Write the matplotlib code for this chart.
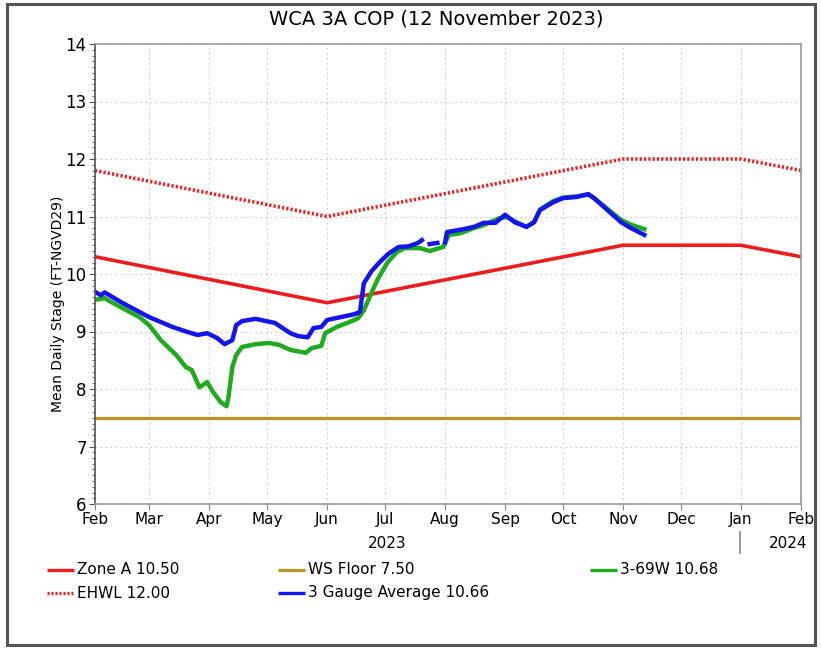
import matplotlib
matplotlib.use("Agg")
import matplotlib.pyplot as plt
from matplotlib.patches import Rectangle
from matplotlib.lines import Line2D
from matplotlib.ticker import MultipleLocator
import numpy as np
import pandas as pd

plt.rcParams['font.family'] = ['DejaVu Sans']

title = "WCA 3A COP (12 November 2023)"
ylabel = "Mean Daily Stage (FT-NGVD29)"

# Regulation schedule breakpoints
sched_dates = ["2023-02-01", "2023-06-01", "2023-11-01", "2024-01-01", "2024-02-01"]
zone_a = [10.3, 9.5, 10.5, 10.5, 10.3]
ehwl = [11.8, 11.0, 12.0, 12.0, 11.8]
ws_floor_dates = ["2023-02-01", "2024-02-01"]
ws_floor = [7.5, 7.5]

# 3 Gauge Average (NaN = data gap)
avg_dates = ["2023-02-01", "2023-02-04", "2023-02-06", "2023-02-15", "2023-03-01", "2023-03-13",
             "2023-03-20", "2023-03-26", "2023-03-31", "2023-04-05", "2023-04-09", "2023-04-13",
             "2023-04-15", "2023-04-18", "2023-04-25", "2023-05-02", "2023-05-05", "2023-05-13",
             "2023-05-17", "2023-05-22", "2023-05-25", "2023-05-29", "2023-06-01", "2023-06-08",
             "2023-06-15", "2023-06-18", "2023-06-19", "2023-06-20", "2023-06-24", "2023-06-28",
             "2023-07-03", "2023-07-08", "2023-07-13", "2023-07-18", "2023-07-20", "2023-07-22",
             "2023-07-24", "2023-07-28", "2023-07-30", "2023-08-01", "2023-08-02", "2023-08-09",
             "2023-08-16", "2023-08-21", "2023-08-27", "2023-09-01", "2023-09-06", "2023-09-12",
             "2023-09-16", "2023-09-19", "2023-09-26", "2023-10-01", "2023-10-08", "2023-10-14",
             "2023-10-17", "2023-10-24", "2023-10-31", "2023-11-05", "2023-11-12"]
avg_vals = [9.69, 9.63, 9.68, 9.50, 9.25, 9.08,
            9.00, 8.94, 8.97, 8.89, 8.78, 8.85,
            9.11, 9.18, 9.22, 9.17, 9.15, 8.97,
            8.92, 8.90, 9.06, 9.08, 9.20, 9.25,
            9.30, 9.34, 9.60, 9.84, 10.05, 10.20,
            10.36, 10.47, 10.48, 10.54, 10.59, np.nan,
            10.52, 10.54, np.nan, 10.55, 10.73, 10.77,
            10.82, 10.89, 10.89, 11.03, 10.90, 10.82,
            10.90, 11.11, 11.25, 11.32, 11.34, 11.39,
            11.32, 11.11, 10.90, 10.80, 10.68]

# 3-69W gauge
g_dates = ["2023-02-01", "2023-02-06", "2023-02-09", "2023-02-15", "2023-02-24", "2023-03-01",
           "2023-03-07", "2023-03-15", "2023-03-20", "2023-03-23", "2023-03-27", "2023-03-31",
           "2023-04-03", "2023-04-07", "2023-04-10", "2023-04-11", "2023-04-13", "2023-04-15",
           "2023-04-18", "2023-04-25", "2023-05-02", "2023-05-07", "2023-05-13", "2023-05-21",
           "2023-05-24", "2023-05-29", "2023-05-31", "2023-06-06", "2023-06-13", "2023-06-17",
           "2023-06-20", "2023-06-23", "2023-06-27", "2023-07-02", "2023-07-07", "2023-07-11",
           "2023-07-19", "2023-07-24", "2023-07-31", "2023-08-03", "2023-08-09", "2023-08-16",
           "2023-08-21", "2023-08-29", "2023-09-02", "2023-09-07", "2023-09-12", "2023-09-16",
           "2023-09-19", "2023-09-26", "2023-10-01", "2023-10-08", "2023-10-14", "2023-10-17",
           "2023-10-24", "2023-10-31", "2023-11-05", "2023-11-12"]
g_vals = [9.55, 9.58, 9.52, 9.41, 9.25, 9.11,
          8.85, 8.59, 8.38, 8.33, 8.03, 8.12,
          7.95, 7.77, 7.70, 7.86, 8.38, 8.59,
          8.73, 8.78, 8.80, 8.77, 8.68, 8.63,
          8.71, 8.75, 8.97, 9.08, 9.17, 9.23,
          9.37, 9.60, 9.90, 10.19, 10.38, 10.45,
          10.45, 10.40, 10.47, 10.68, 10.71, 10.80,
          10.85, 10.97, 10.99, 10.90, 10.82, 10.90,
          11.12, 11.27, 11.33, 11.35, 11.38, 11.32,
          11.13, 10.94, 10.86, 10.78]

month_labels = ["Feb", "Mar", "Apr", "May", "Jun", "Jul", "Aug", "Sep", "Oct", "Nov", "Dec", "Jan", "Feb"]

legend_labels = ["Zone A 10.50", "WS Floor 7.50", "3-69W 10.68", "EHWL 12.00", "3 Gauge Average 10.66"]

RED = "#ee1c1c"
GOLD = "#b8962a"
GREEN = "#1faa1f"
BLUE = "#1414ee"

fig = plt.figure(figsize=(8.21, 6.48), dpi=100)
ax = fig.add_axes([95/821, 1-504/648, 706/821, 460/648])

td = lambda lst: pd.to_datetime(lst)

ax.plot(td(sched_dates), ehwl, color=RED, lw=2.6, ls=(0, (0.6, 0.6)), solid_capstyle="butt")
ax.plot(td(sched_dates), zone_a, color=RED, lw=2.6)
ax.plot(td(ws_floor_dates), ws_floor, color=GOLD, lw=2.4)
ax.plot(td(g_dates), g_vals, color=GREEN, lw=3.2)
ax.plot(td(avg_dates), avg_vals, color=BLUE, lw=3.2)

ax.set_xlim(pd.Timestamp("2023-02-01"), pd.Timestamp("2024-02-01"))
ax.set_ylim(6, 14)
ticks = pd.date_range("2023-02-01", "2024-02-01", freq="MS")
ax.set_xticks(ticks)
ax.set_xticklabels(month_labels, fontsize=11)
ax.yaxis.set_major_locator(MultipleLocator(1))
ax.yaxis.set_minor_locator(MultipleLocator(0.1))
ax.tick_params(axis="y", labelsize=12, length=4, width=0.8, color="#555555", pad=2)
ax.tick_params(axis="y", which="minor", length=2, width=0.6, color="#555555")
ax.tick_params(axis="x", labelsize=11, length=4, width=0.8, color="#888888", pad=2)
ax.grid(True, color="#c8c8c8", ls=(0, (1.5, 3)), lw=0.8)
for s in ax.spines.values():
    s.set_color("#999999")
    s.set_linewidth(1.2)
ax.spines["left"].set_color("#555555")

fig.text(58/821, 1-304/648, ylabel, rotation=90, ha="center", va="center", fontsize=10)
fig.text(436/821, 1-19/648, title, ha="center", va="center", fontsize=14)
fig.text(387/821, 1-543/648, "2023", ha="center", va="center", fontsize=11)
fig.text(788/821, 1-543/648, "2024", ha="center", va="center", fontsize=11)
fig.add_artist(Line2D([740/821, 740/821], [1-532/648, 1-553/648], color="#888888", lw=1.2))

# legend entries
leg_x = [47, 278, 590, 47, 278]
leg_y = [570, 570, 570, 593, 593]
leg_style = [dict(color=RED, lw=2.4), dict(color=GOLD, lw=2.4), dict(color=GREEN, lw=2.4),
             dict(color=RED, lw=2.4, ls=(0, (0.6, 0.6))), dict(color=BLUE, lw=2.4)]
for lx, ly, lab, st in zip(leg_x, leg_y, legend_labels, leg_style):
    fig.add_artist(Line2D([lx/821, (lx+27)/821], [1-ly/648, 1-ly/648], solid_capstyle="butt", **st))
    fig.text((lx+30)/821, 1-ly/648, lab, ha="left", va="center", fontsize=11)

fig.add_artist(Rectangle((7/821, 3/648), 808/821, 641/648, fill=False, ec="#555555", lw=2.2,
                         transform=fig.transFigure))

fig.savefig("out.png", dpi=100)
